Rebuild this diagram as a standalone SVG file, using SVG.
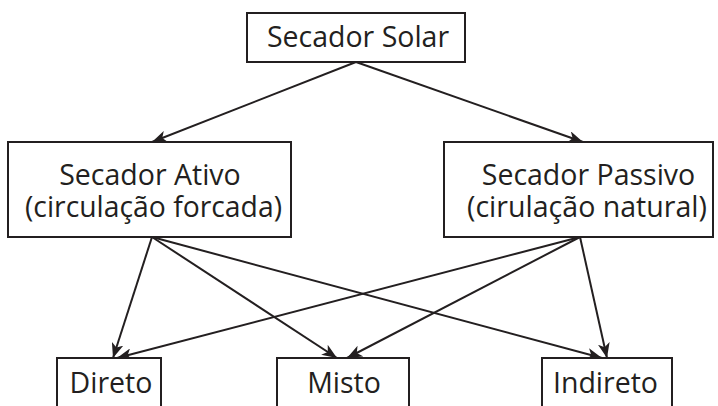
<svg xmlns="http://www.w3.org/2000/svg" width="718" height="406" viewBox="0 0 718 406">
<defs>
<style>
.box{fill:#fff;stroke:#231f20;stroke-width:2}
.t{font-family:"Open Sans","Liberation Sans",sans-serif;font-size:28.5px;fill:#231f20;text-anchor:middle}
.e{fill:none;stroke:#231f20;stroke-width:2}
</style>
<marker id="ah" markerUnits="userSpaceOnUse" markerWidth="16" markerHeight="12" refX="15" refY="6" orient="auto">
<path d="M0,0 L15,6 L0,12 L4,6 Z" fill="#231f20"/>
</marker>
</defs>
<rect width="718" height="406" fill="#fff"/>
<g id="connectors">
<line class="e" x1="356" y1="62" x2="152" y2="142" marker-end="url(#ah)"/>
<line class="e" x1="356" y1="62" x2="583" y2="142" marker-end="url(#ah)"/>
<line class="e" x1="152" y1="237" x2="113" y2="358" marker-end="url(#ah)"/>
<line class="e" x1="152" y1="237" x2="337" y2="358" marker-end="url(#ah)"/>
<line class="e" x1="152" y1="237" x2="602" y2="358" marker-end="url(#ah)"/>
<line class="e" x1="580" y1="237" x2="117" y2="358" marker-end="url(#ah)"/>
<line class="e" x1="580" y1="237" x2="347" y2="358" marker-end="url(#ah)"/>
<line class="e" x1="580" y1="237" x2="607" y2="358" marker-end="url(#ah)"/>
</g>
<g id="solar">
<rect class="box" x="247" y="13" width="218" height="49"/>
<text class="t" x="358" y="47">Secador Solar</text>
</g>
<g id="ativo">
<rect class="box" x="8" y="142" width="283" height="95"/>
<text class="t" x="150" y="185">Secador Ativo</text>
<text class="t" x="153.5" y="217" textLength="257" lengthAdjust="spacingAndGlyphs">(circulação forcada)</text>
</g>
<g id="passivo">
<rect class="box" x="444" y="142" width="269" height="95"/>
<text class="t" x="588.5" y="185">Secador Passivo</text>
<text class="t" x="587" y="217" textLength="240" lengthAdjust="spacingAndGlyphs">(cirulação natural)</text>
</g>
<g id="direto">
<rect class="box" x="57" y="358" width="104" height="60"/>
<text class="t" x="111" y="393">Direto</text>
</g>
<g id="misto">
<rect class="box" x="277" y="358" width="132" height="60"/>
<text class="t" x="344" y="393">Misto</text>
</g>
<g id="indireto">
<rect class="box" x="542" y="358" width="130" height="60"/>
<text class="t" x="605.5" y="393">Indireto</text>
</g>
</svg>
